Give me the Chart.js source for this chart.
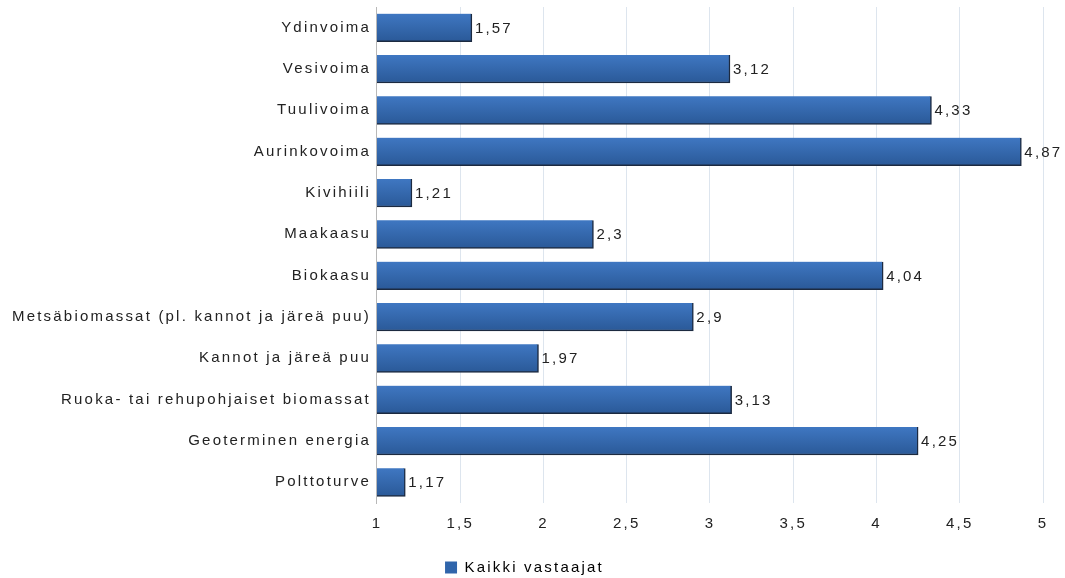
<!DOCTYPE html>
<html>
<head>
<meta charset="utf-8">
<script src="https://cdn.jsdelivr.net/npm/chart.js@4/dist/chart.umd.min.js"></script>
<style>
  html, body { margin: 0; padding: 0; background: #fff; }
  #wrap { width: 1065px; height: 578px; }
</style>
</head>
<body>
<div id="wrap"><canvas id="chart"></canvas></div>
<script>
 const categories = [
     'Ydinvoima', 'Vesivoima', 'Tuulivoima', 'Aurinkovoima', 'Kivihiili', 'Maakaasu',
     'Biokaasu', 'Metsäbiomassat (pl. kannot ja järeä puu)', 'Kannot ja järeä puu',
     'Ruoka- tai rehupohjaiset biomassat', 'Geoterminen energia', 'Polttoturve'
 ];
 const values = [1.57, 3.12, 4.33, 4.87, 1.21, 2.3, 4.04, 2.9, 1.97, 3.13, 4.25, 1.17];
 const seriesName = 'Kaikki vastaajat';
 const xTicks = [1, 1.5, 2, 2.5, 3, 3.5, 4, 4.5, 5];

 const fmt = v => String(v).replace('.', ',');
 const FONT = '"Liberation Sans", Arial, sans-serif';
 const LS = '2.2px';

 // wide letter spacing like the original
 const spacing = {
     id: 'spacing',
     beforeInit(chart) { chart.ctx.letterSpacing = LS; },
     beforeUpdate(chart) { chart.ctx.letterSpacing = LS; },
     beforeLayout(chart) { chart.ctx.letterSpacing = LS; },
     beforeDraw(chart) { chart.ctx.letterSpacing = LS; }
 };

 // value labels at bar ends
 const valueLabels = {
     id: 'valueLabels',
     afterDatasetsDraw(chart) {
         const ctx = chart.ctx;
         const meta = chart.getDatasetMeta(0);
         ctx.save();
         ctx.letterSpacing = LS;
         ctx.font = '15px ' + FONT;
         ctx.fillStyle = '#222';
         ctx.textAlign = 'left';
         ctx.textBaseline = 'middle';
         meta.data.forEach((bar, i) => {
             ctx.fillText(fmt(values[i]), bar.x + 3, bar.y + 1);
         });
         ctx.restore();
     }
 };

 function barFill(context) {
     const chart = context.chart;
     if (!chart.chartArea || context.type !== 'data') return '#3568b0';
     const y = chart.scales.y.getPixelForValue(context.dataIndex);
     const g = chart.ctx.createLinearGradient(0, y - 14, 0, y + 14);
     g.addColorStop(0, '#3f77c2');
     g.addColorStop(1, '#2a5998');
     return g;
 }

 chartIt();

 function chartIt() {
     const ctx = document.getElementById('chart').getContext('2d');

     var options = {
         responsive: true,
         maintainAspectRatio: false,
         animation: false,
         indexAxis: 'y',
         layout: {
             padding: { top: 7, right: 22, bottom: -7, left: 6 }
         },
         scales: {
             x: {
                 min: 1,
                 max: 5,
                 afterBuildTicks: axis => {
                     axis.ticks = xTicks.map(v => ({ value: v }));
                 },
                 afterFit: axis => { axis.height += 7; },
                 grid: {
                     color: '#dde5ee',
                     drawTicks: false
                 },
                 border: { display: false },
                 ticks: {
                     color: '#222',
                     padding: 12,
                     font: { family: FONT, size: 15 },
                     callback: v => fmt(v)
                 }
             },
             y: {
                 afterFit: axis => { axis.paddingTop = 0; axis.paddingBottom = 0; },
                 grid: { display: false, drawTicks: false },
                 border: { display: true, color: '#b8b8b8', width: 1 },
                 ticks: {
                     color: '#222',
                     padding: 6,
                     font: { family: FONT, size: 15 }
                 }
             }
         },
         plugins: {
             legend: {
                 position: 'bottom',
                 labels: {
                     color: '#222',
                     boxWidth: 12,
                     boxHeight: 12,
                     padding: 8,
                     font: { family: FONT, size: 15 },
                     generateLabels: () => [{
                         text: seriesName,
                         fillStyle: '#3065ab',
                         strokeStyle: '#3065ab',
                         lineWidth: 0,
                         datasetIndex: 0
                     }]
                 }
             },
             tooltip: { enabled: false }
         }
     };

     const myChart = new Chart(ctx, {
         type: 'bar',
         data: {
             labels: categories,
             datasets: [{
                 label: seriesName,
                 data: values,
                 backgroundColor: barFill,
                 borderColor: '#1c2a40',
                 borderWidth: { top: 0, left: 0, right: 1.5, bottom: 1.5 },
                 borderSkipped: false,
                 barThickness: 28
             }]
         },
         options: options,
         plugins: [spacing, valueLabels]
     });
 }
</script>
</body>
</html>
